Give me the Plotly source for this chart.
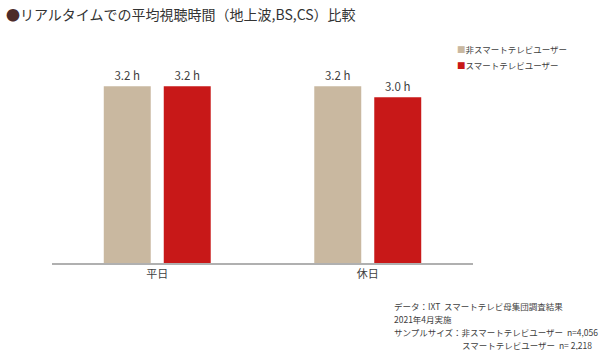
import plotly.graph_objects as go

categories = ["平日", "休日"]
series_names = ["非スマートテレビユーザー", "スマートテレビユーザー"]
non_smart_tv = [3.2, 3.2]
smart_tv = [3.2, 3.0]
colors = ["#C9B8A0", "#C81818"]
title_text = "リアルタイムでの平均視聴時間（地上波,BS,CS）比較"
notes = [
    "データ：IXT  スマートテレビ母集団調査結果",
    "2021年4月実施",
    "サンプルサイズ：非スマートテレビユーザー  n=4,056",
]
note_last = "スマートテレビユーザー  n= 2,218"

FONT = "Noto Sans CJK JP"
TXT = "#404040"

fig = go.Figure()
for name, vals, col in zip(series_names, [non_smart_tv, smart_tv], colors):
    fig.add_trace(go.Bar(
        x=categories, y=vals, name=name, marker=dict(color=col, line=dict(width=0)),
        texttemplate="%{y:.1f} h", textposition="outside",
        textfont=dict(size=11.5, color=TXT, family=FONT), cliponaxis=False,
        showlegend=False,
    ))

fig.update_layout(
    width=600, height=350,
    margin=dict(l=52, r=127, t=42, b=87),
    paper_bgcolor="white", plot_bgcolor="white",
    barmode="group", bargap=0.43, bargroupgap=0.217,
    font=dict(family=FONT, color=TXT, size=11),
    xaxis=dict(showline=True, linecolor="#B0B0B0", linewidth=1.5, ticks="",
               tickfont=dict(size=11, color=TXT), showgrid=False),
    yaxis=dict(range=[0, 4], visible=False, showgrid=False, zeroline=False),
)

annotations = []
annotations.append(dict(
    xref="paper", yref="paper", x=-48/421, y=1 + (42 - 14) / 221,
    xanchor="left", yanchor="middle", showarrow=False,
    text="<span style='color:#4B2B2B'>●</span>" + title_text,
    font=dict(size=14, color="#333333", family=FONT),
))
for i, (name, col) in enumerate(zip(series_names, colors)):
    yy = 49 + i * 16
    annotations.append(dict(
        xref="paper", yref="paper", x=(455 - 52) / 421, y=(263 - yy) / 221,
        xanchor="left", yanchor="middle", showarrow=False,
        text=f"<span style='color:{col}'>■</span>{name}",
        font=dict(size=8.5, color=TXT, family=FONT),
    ))
NF = 8.5
nx = 392
for i, line in enumerate(notes):
    yy = 306 + i * 13
    annotations.append(dict(
        xref="paper", yref="paper", x=(nx - 52) / 421, y=(263 - yy) / 221,
        xanchor="left", yanchor="middle", showarrow=False, text=line,
        font=dict(size=NF, color=TXT, family=FONT),
    ))
annotations.append(dict(
    xref="paper", yref="paper", x=(nx + 8 * NF - 52) / 421, y=(263 - 345) / 221,
    xanchor="left", yanchor="middle", showarrow=False, text=note_last,
    font=dict(size=NF, color=TXT, family=FONT),
))
fig.update_layout(annotations=annotations)

fig.write_html("out.html")
